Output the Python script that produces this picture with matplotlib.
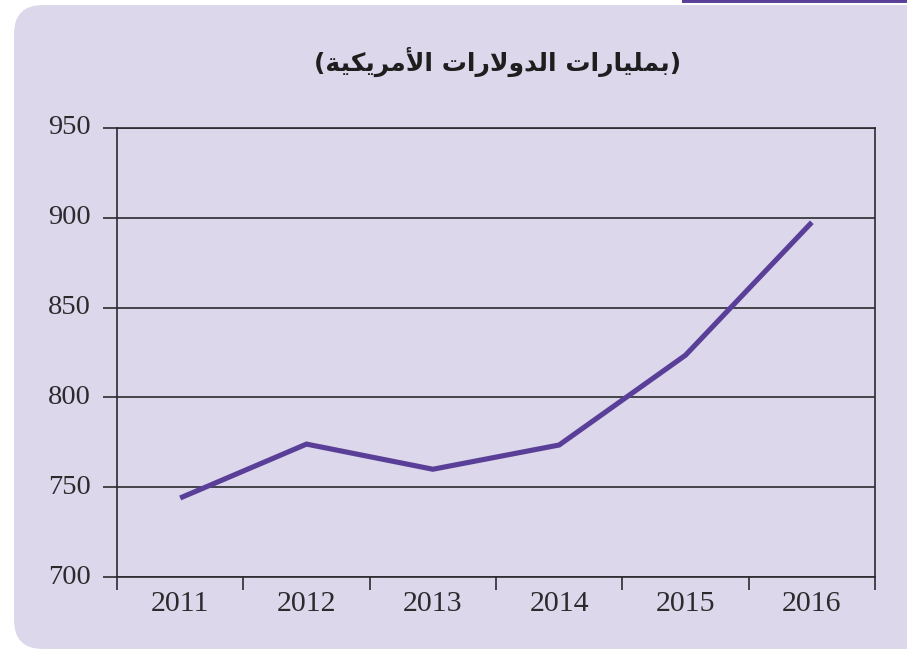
import matplotlib.pyplot as plt
from matplotlib.patches import FancyBboxPatch, Rectangle
from matplotlib.transforms import ScaledTranslation
import numpy as np

years = ["2011", "2012", "2013", "2014", "2015", "2016"]
values = [744, 774, 760, 773.5, 823.5, 897.5]
y_ticks = [700, 750, 800, 850, 900, 950]

# Arabic title, shaped by hand into presentation forms (matplotlib has no shaping)
w1 = "\uFE91\uFEE4\uFEE0\uFEF4\uFE8E\uFEAD\uFE8D\uFE95"          # بمليارات
w2 = "\uFE8D\uFEDF\uFEAA\uFEED\uFEFB\uFEAD\uFE8D\uFE95"          # الدولارات
w3 = "\uFE8D\uFEF7\uFEE3\uFEAE\uFEF3\uFEDC\uFEF4\uFE94"          # الأمريكية
title = "(" + w3[::-1] + " " + w2[::-1] + " " + w1[::-1] + ")"

bg = "#dcd7ea"
purple = "#5a3f99"
dark = "#2b2b2e"

fig = plt.figure(figsize=(9.07, 6.53), dpi=100)
fig.patch.set_facecolor("white")

# purple tab at top right, then the lavender card
fig.patches.append(Rectangle((682 / 907, 1 - 6 / 653), 1, 0.02, transform=fig.transFigure,
                             facecolor=purple, edgecolor="none", zorder=0))
card = FancyBboxPatch((0.13, 0.03), 9.3, 6.46, boxstyle="round,pad=0,rounding_size=0.3",
                      transform=fig.dpi_scale_trans, facecolor=bg, edgecolor="white",
                      linewidth=1.5, zorder=1)
fig.patches.append(card)

ax = fig.add_axes([117 / 907, 1 - 577 / 653, (875 - 117) / 907, (577 - 128) / 653])
ax.set_zorder(3)
ax.set_facecolor("none")

x = np.arange(len(years))
ax.plot(x, values, color=purple, linewidth=3.7, solid_capstyle="butt",
        solid_joinstyle="miter", zorder=3)

ax.set_xlim(-0.5, len(years) - 0.5)
ax.set_ylim(700, 950)
ax.set_yticks(y_ticks)
ax.set_yticklabels([str(v) for v in y_ticks], fontsize=20.5, family="Liberation Serif", color=dark)
ax.yaxis.grid(True, color=dark, linewidth=1.2)
ax.tick_params(axis="y", length=10, width=1.2, color=dark, pad=9)
for lab in ax.get_yticklabels():
    lab.set_transform(lab.get_transform() + ScaledTranslation(0, 3 / 100, fig.dpi_scale_trans))

ax.set_xticks(x)
ax.set_xticklabels(years, fontsize=21.5, family="Liberation Serif", color=dark)
ax.set_xticks(np.arange(-0.5, len(years)), minor=True)
ax.tick_params(axis="x", which="major", length=0, pad=10)
ax.tick_params(axis="x", which="minor", length=9, width=1.2, color=dark)

for s in ax.spines.values():
    s.set_color(dark)
    s.set_linewidth(1.2)

fig.text(498 / 907, 1 - 62 / 653, title, ha="center", va="center", fontsize=18,
         fontweight="bold", family=["DejaVu Sans"], color="#1e1e1e", zorder=3)

fig.savefig("out.png", dpi=100, facecolor=fig.get_facecolor())
